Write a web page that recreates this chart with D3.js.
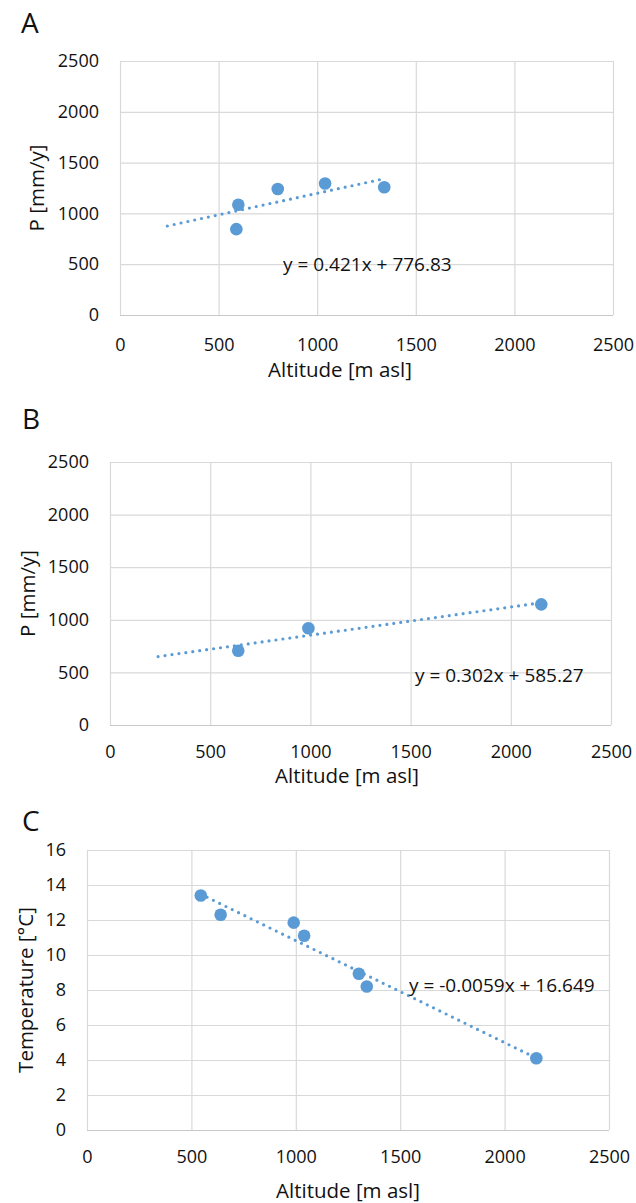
<!DOCTYPE html>
<html>
<head>
<meta charset="utf-8">
<script src="https://cdn.jsdelivr.net/npm/d3@7"></script>
<style>
  body { margin: 0; background: #fff; }
  svg { display: block; font-family: "Open Sans", sans-serif; }
</style>
</head>
<body>
<div id="chart"></div>
<script>
// values
const altitudeA = [590, 600, 800, 1040, 1340];
const precipA = [845, 1085, 1240, 1295, 1257];
const altitudeB = [640, 990, 2152];
const precipB = [706, 919, 1147];
const altitudeC = [545, 640, 990, 1040, 1302, 1340, 2152];
const tempC = [13.4, 12.3, 11.85, 11.1, 8.93, 8.2, 4.1];

const altTicks = [0, 500, 1000, 1500, 2000, 2500];
const precipTicks = [0, 500, 1000, 1500, 2000, 2500];
const tempTicks = [0, 2, 4, 6, 8, 10, 12, 14, 16];

// trendline start (Excel backward forecast)
const trendStart = { A: 240, B: 240, C: 545 };
const equations = {
  A: "y = 0.421x + 776.83",
  B: "y = 0.302x + 585.27",
  C: "y = -0.0059x + 16.649"
};

const blue = "#5b9bd5";
const grid = "#d9d9d9";
const ink = "#111";

const svg = d3
  .select("#chart")
  .append("svg")
  .attr("width", 636)
  .attr("height", 1203);

function linFit(xs, ys) {
  const mx = d3.mean(xs);
  const my = d3.mean(ys);
  const sxy = d3.sum(xs, (x, i) => (x - mx) * (ys[i] - my));
  const sxx = d3.sum(xs, (x) => (x - mx) * (x - mx));
  const slope = sxy / sxx;
  return { slope, intercept: my - slope * mx };
}

function drawPanel(p) {
  const g = svg.append("g");

  const x = d3.scaleLinear().domain([0, 2500]).range([p.left, p.right]);
  const y = d3
    .scaleLinear()
    .domain([0, d3.max(p.yTicks)])
    .range([p.bottom, p.top]);

  // grid
  g.append("g")
    .attr("transform", `translate(0,${p.bottom})`)
    .call(d3.axisBottom(x).tickValues(altTicks).tickSize(-(p.bottom - p.top)).tickFormat(""))
    .call((a) => a.select(".domain").remove())
    .selectAll("line")
    .attr("stroke", grid)
    .attr("stroke-width", 1.2);

  g.append("g")
    .attr("transform", `translate(${p.left},0)`)
    .call(d3.axisLeft(y).tickValues(p.yTicks).tickSize(-(p.right - p.left)).tickFormat(""))
    .call((a) => a.select(".domain").remove())
    .selectAll("line")
    .attr("stroke", (d) => (d === 0 ? "#c8c8c8" : grid))
    .attr("stroke-width", 1.2);

  // tick labels
  g.append("g")
    .attr("transform", `translate(0,${p.bottom})`)
    .call(d3.axisBottom(x).tickValues(altTicks).tickSize(0).tickPadding(p.xPad).tickFormat(d3.format("d")))
    .call((a) => a.select(".domain").remove())
    .selectAll("text")
    .attr("fill", ink)
    .style("font-family", "Open Sans")
    .style("font-size", "18px");

  g.append("g")
    .attr("transform", `translate(${p.left},0)`)
    .call(d3.axisLeft(y).tickValues(p.yTicks).tickSize(0).tickPadding(21).tickFormat(d3.format("d")))
    .call((a) => a.select(".domain").remove())
    .selectAll("text")
    .attr("fill", ink)
    .style("font-family", "Open Sans")
    .style("font-size", "18px");

  // titles
  g.append("text")
    .attr("x", p.xTitleX)
    .attr("y", p.xTitleY)
    .attr("text-anchor", "middle")
    .attr("fill", ink)
    .style("font-size", "20.5px")
    .text("Altitude [m asl]");

  g.append("text")
    .attr("transform", `translate(${p.yTitleX},${(p.top + p.bottom) / 2}) rotate(-90)`)
    .attr("text-anchor", "middle")
    .attr("fill", ink)
    .style("font-size", "20.5px")
    .text(p.yTitle);

  g.append("text")
    .attr("x", p.letterX)
    .attr("y", p.letterY)
    .attr("fill", ink)
    .style("font-size", "28px")
    .text(p.letter);

  // trendline
  const fit = linFit(p.xs, p.ys);
  const tx = [trendStart[p.letter], d3.max(p.xs)];
  g.append("line")
    .attr("x1", x(tx[0]))
    .attr("y1", y(fit.slope * tx[0] + fit.intercept))
    .attr("x2", x(tx[1]))
    .attr("y2", y(fit.slope * tx[1] + fit.intercept))
    .attr("stroke", blue)
    .attr("stroke-width", 3.2)
    .attr("stroke-linecap", "round")
    .attr("stroke-dasharray", "0 7");

  // points
  g.selectAll(".dot")
    .data(p.xs.map((v, i) => [v, p.ys[i]]))
    .join("circle")
    .attr("class", "dot")
    .attr("cx", (d) => x(d[0]))
    .attr("cy", (d) => y(d[1]))
    .attr("r", 6.3)
    .attr("fill", blue);

  g.append("text")
    .attr("x", p.eqX)
    .attr("y", p.eqY)
    .attr("fill", ink)
    .style("font-size", "19px")
    .text(equations[p.letter]);
}

drawPanel({
  letter: "A", letterX: 21, letterY: 33,
  xs: altitudeA, ys: precipA, yTicks: precipTicks, yTitle: "P [mm/y]",
  left: 120, right: 613, top: 61, bottom: 315,
  xPad: 23, xTitleX: 340, xTitleY: 377, yTitleX: 44,
  eqX: 283, eqY: 271
});

drawPanel({
  letter: "B", letterX: 22, letterY: 429,
  xs: altitudeB, ys: precipB, yTicks: precipTicks, yTitle: "P [mm/y]",
  left: 110, right: 611, top: 462, bottom: 725,
  xPad: 20, xTitleX: 347, xTitleY: 783, yTitleX: 35,
  eqX: 415, eqY: 682
});

drawPanel({
  letter: "C", letterX: 22, letterY: 831,
  xs: altitudeC, ys: tempC, yTicks: tempTicks, yTitle: "Temperature [°C]",
  left: 87, right: 609, top: 850, bottom: 1130,
  xPad: 20, xTitleX: 348, xTitleY: 1198, yTitleX: 33,
  eqX: 409, eqY: 992
});
</script>
</body>
</html>
